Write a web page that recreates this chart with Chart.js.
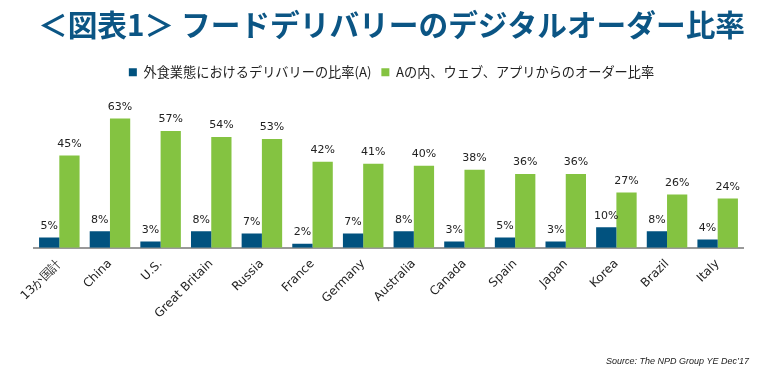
<!DOCTYPE html>
<html><head><meta charset="utf-8">
<script src="https://cdn.jsdelivr.net/npm/chart.js@4/dist/chart.umd.min.js"></script>
<style>html,body{margin:0;padding:0;background:#fff;}#wrap{width:763px;height:373px;}</style>
</head><body><div id="wrap"><canvas id="c" width="763" height="373"></canvas></div>
<script>
const categories = ["13か国計","China","U.S.","Great Britain","Russia","France","Germany","Australia","Canada","Spain","Japan","Korea","Brazil","Italy"];
const deliveryShare = [5,8,3,8,7,2,7,8,3,5,3,10,8,4];
const digitalShare = [45,63,57,54,53,42,41,40,38,36,36,27,26,24];
const seriesNames = ["外食業態におけるデリバリーの比率(A)","Aの内、ウェブ、アプリからのオーダー比率"];
const titleText = "＜図表1＞ フードデリバリーのデジタルオーダー比率";
const sourceText = "Source: The NPD Group YE Dec’17";

const labelPlugin = {
  id: 'valLabels',
  afterDatasetsDraw(chart) {
    const ctx = chart.ctx;
    ctx.save();
    ctx.font = '11px "DejaVu Sans"';
    ctx.fillStyle = '#222';
    ctx.textAlign = 'center';
    ctx.textBaseline = 'bottom';
    chart.data.datasets.forEach((ds, di) => {
      chart.getDatasetMeta(di).data.forEach((bar, i) => {
        ctx.fillText(ds.data[i] + '%', bar.x, bar.y - 6);
      });
    });
    ctx.restore();
  }
};

new Chart(document.getElementById('c'), {
  type: 'bar',
  data: {
    labels: categories,
    datasets: [
      {label: seriesNames[0], data: deliveryShare, backgroundColor: '#01527f'},
      {label: seriesNames[1], data: digitalShare, backgroundColor: '#84c341'}
    ]
  },
  options: {
    responsive: false,
    animation: false,
    devicePixelRatio: 1,
    layout: {padding: {left: 34, right: 14, top: 0, bottom: 6}},
    datasets: {bar: {categoryPercentage: 0.8, barPercentage: 1.0}},
    plugins: {
      tooltip: {enabled: false},
      title: {
        display: true, text: titleText, color: '#0b5584',
        font: {family: '"Noto Sans CJK JP"', size: 29.7, weight: 'bold'},
        padding: {top: 7, bottom: 13}
      },
      legend: {
        display: true,
        labels: {
          boxWidth: 8, boxHeight: 8, color: '#222',
          font: {family: '"Noto Sans CJK JP"', size: 13.2},
          padding: 10
        }
      },
      subtitle: {
        display: true, text: sourceText, position: 'bottom', align: 'end',
        color: '#222',
        font: {family: '"Liberation Sans"', size: 9, style: 'italic'},
        padding: {top: 26, bottom: 0}
      }
    },
    scales: {
      x: {
        grid: {display: false, drawTicks: false},
        border: {display: true, color: '#999', width: 2},
        ticks: {
          minRotation: 45, maxRotation: 45, color: '#222', padding: 9,
          font: {family: '"DejaVu Sans"', size: 12}
        }
      },
      y: {
        display: true, position: 'right', min: 0, max: 77.5,
        grid: {display: false, drawTicks: false},
        border: {display: false},
        ticks: {display: false},
        afterFit(scale) { scale.width = 6; }
      }
    }
  },
  plugins: [labelPlugin]
});
</script></body></html>
